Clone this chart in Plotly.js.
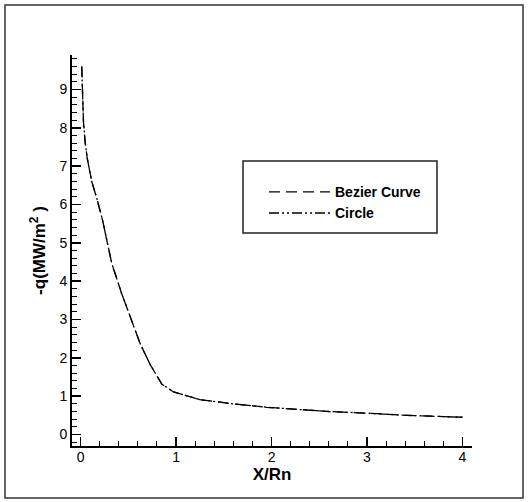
<!DOCTYPE html>
<html>
<head>
<meta charset="utf-8">
<script src="https://cdn.plot.ly/plotly-3.0.1.min.js"></script>
<style>html,body{margin:0;padding:0;background:#fff;}#chart{width:532px;height:502px;}</style>
</head>
<body>
<div id="chart"></div>
<script>
// Data
const seriesNames = ["Bezier Curve", "Circle"];
const xBezier = [0.012, 0.023, 0.03, 0.047, 0.07, 0.117, 0.17, 0.23, 0.275, 0.327, 0.43, 0.537, 0.624, 0.73, 0.852, 0.974, 1.11, 1.25, 1.6, 1.95, 2.3, 2.6, 2.97, 3.42, 4.0];
const yBezier = [9.60, 8.86, 8.16, 7.64, 7.2, 6.6, 6.16, 5.59, 5.03, 4.46, 3.68, 2.98, 2.37, 1.82, 1.31, 1.11, 1.02, 0.91, 0.80, 0.71, 0.65, 0.60, 0.56, 0.50, 0.45];
const xCircle = [0.012, 0.023, 0.03, 0.047, 0.07, 0.117, 0.17, 0.23, 0.275, 0.327, 0.43, 0.537, 0.624, 0.73, 0.852, 0.974, 1.11, 1.25, 1.6, 1.95, 2.3, 2.6, 2.97, 3.42, 4.0];
const yCircle = [9.60, 8.86, 8.16, 7.64, 7.2, 6.6, 6.16, 5.59, 5.03, 4.46, 3.68, 2.98, 2.37, 1.82, 1.31, 1.11, 1.02, 0.91, 0.80, 0.71, 0.65, 0.60, 0.56, 0.50, 0.45];
const xTickVals = [0, 1, 2, 3, 4];
const yTickVals = [0, 1, 2, 3, 4, 5, 6, 7, 8, 9];

const traces = [
  {x: xBezier, y: yBezier, name: seriesNames[0], type: "scatter", mode: "lines",
   line: {color: "#000", width: 1.3, dash: "11px,6px"}},
  {x: xCircle, y: yCircle, name: seriesNames[1], type: "scatter", mode: "lines",
   line: {color: "#000", width: 1.3, dash: "10px,3px,2px,3px,2px,3px"}}
];

const layout = {
  width: 532, height: 502,
  margin: {l: 72, r: 60, t: 55, b: 56, pad: 0},
  paper_bgcolor: "#fff", plot_bgcolor: "#fff",
  font: {family: "Liberation Sans, Arial, sans-serif", color: "#000", size: 14},
  showlegend: true,
  legend: {x: 0.48, y: 0.69, xanchor: "left", yanchor: "top",
           bgcolor: "rgba(0,0,0,0)", borderwidth: 0, itemwidth: 61,
           font: {size: 14, weight: "bold", family: "Liberation Sans, Arial, sans-serif"}},
  xaxis: {
    range: [-0.09, 4.1], tickvals: xTickVals, ticks: "inside", ticklen: 9, tickwidth: 1.5,
    tickcolor: "#000", showline: true, linecolor: "#000", linewidth: 2,
    showgrid: false, zeroline: false, automargin: false, ticklabelstandoff: -3,
    minor: {dtick: 0.2, tick0: 0, ticks: "inside", ticklen: 5, tickwidth: 1, tickcolor: "#000", showgrid: false},
    tickfont: {size: 14},
    title: {text: "X/Rn", font: {size: 17, weight: "bold"}, standoff: 0}
  },
  yaxis: {
    range: [-0.3, 9.9], tickvals: yTickVals, ticks: "inside", ticklen: 9, tickwidth: 1.5,
    tickcolor: "#000", showline: true, linecolor: "#000", linewidth: 2,
    showgrid: false, zeroline: false, automargin: false,
    minor: {dtick: 0.2, tick0: 0, ticks: "inside", ticklen: 5, tickwidth: 1, tickcolor: "#000", showgrid: false},
    tickfont: {size: 14},
    title: {text: "-q(MW/m<sup>2</sup> )", font: {size: 17, weight: "bold"}, standoff: 9}
  },
  shapes: [
    {type: "rect", xref: "paper", yref: "paper", x0: -0.1675, x1: 1.1275, y0: -0.133, y1: 1.128,
     line: {color: "#333", width: 1.5}, fillcolor: "rgba(0,0,0,0)", layer: "below"},
    {type: "rect", xref: "paper", yref: "paper", x0: 0.4275, x1: 0.9125, y0: 0.545, y1: 0.729,
     line: {color: "#222", width: 1.5}, fillcolor: "rgba(0,0,0,0)", layer: "below"}
  ]
};

Plotly.newPlot("chart", traces, layout, {displayModeBar: false, staticPlot: true});
</script>
</body>
</html>
